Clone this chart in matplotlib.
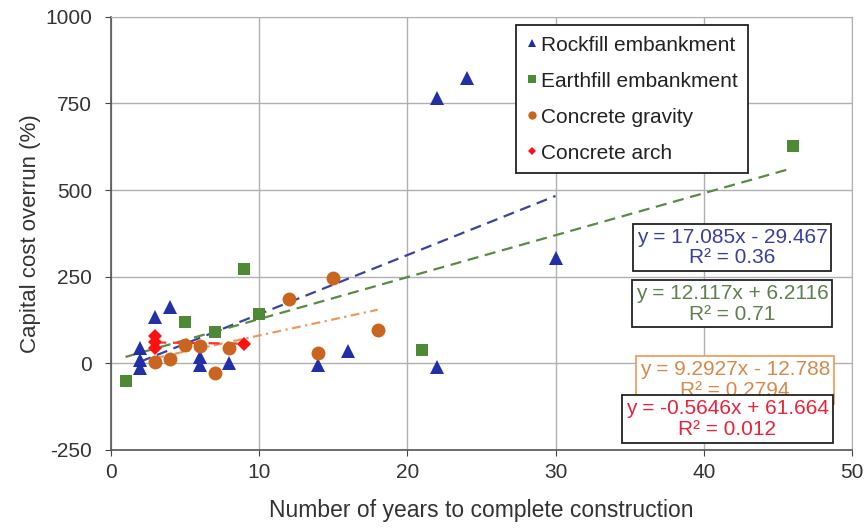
import matplotlib
matplotlib.use("Agg")
import matplotlib.pyplot as plt
import numpy as np

plt.rcParams['font.family'] = ['Liberation Sans', 'DejaVu Sans']
plt.rcParams['axes.unicode_minus'] = False

# ---- data ----
rock_x = [2, 2, 2, 3, 4, 6, 6, 8, 14, 16, 22, 22, 24, 30]
rock_y = [43, 10, -14, 135, 162, 19, -5, 0, -5, 34, 767, -12, 824, 304]

earth_x = [1, 5, 7, 9, 10, 21, 46]
earth_y = [-50, 120, 91, 272, 142, 38, 628]

grav_x = [3, 4, 5, 6, 7, 8, 12, 14, 15, 18]
grav_y = [5, 12, 52, 50, -27, 44, 185, 31, 246, 96]

arch_x = [3, 3, 3, 9]
arch_y = [78, 60, 44, 56]

series_names = ["Rockfill embankment", "Earthfill embankment",
                "Concrete gravity", "Concrete arch"]
trend_slope = [17.085, 12.117, 9.2927, -0.5646]
trend_icpt = [-29.467, 6.2116, -12.788, 61.664]
trend_r2 = ["0.36", "0.71", "0.2794", "0.012"]
eq_text = ["y = 17.085x - 29.467", "y = 12.117x + 6.2116",
           "y = 9.2927x - 12.788", "y = -0.5646x + 61.664"]

x_ticks = [0, 10, 20, 30, 40, 50]
y_ticks = [-250, 0, 250, 500, 750, 1000]

# ---- style ----
mcol = ["#2230a8", "#4e8a36", "#c9651e", "#ff1010"]
tcol = ["#3a3f9e", "#5f7f4f", "#d8894a", "#e8233a"]
lcol = ["#3a44a0", "#5a8a46", "#e89a60", "#ff3030"]
markers = ["^", "s", "o", "D"]
msizes = [10, 9, 10, 7]

fig = plt.figure(figsize=(8.65, 5.28), dpi=100)
ax = fig.add_axes([0.128, 0.148, 0.857, 0.82])

xs = [rock_x, earth_x, grav_x, arch_x]
ys = [rock_y, earth_y, grav_y, arch_y]

handles = []
for i in range(4):
    h, = ax.plot(xs[i], ys[i], linestyle="none", marker=markers[i],
                 markersize=msizes[i], color=mcol[i], markeredgewidth=0,
                 label=series_names[i], zorder=4)
    handles.append(h)

# trend lines over data range
dash = [(0, (5, 3)), (0, (5, 3)), (0, (4, 2, 1, 2)), (0, (5, 3))]
for i in range(4):
    xr = np.array([min(xs[i]), max(xs[i])], dtype=float)
    ax.plot(xr, trend_slope[i] * xr + trend_icpt[i], linestyle=dash[i],
            color=lcol[i], linewidth=1.6, zorder=3)

ax.set_xlim(0, 50)
ax.set_ylim(-250, 1000)
ax.set_xticks(x_ticks)
ax.set_yticks(y_ticks)
ax.grid(True, color="#b0b0b0", linewidth=1.0)
ax.set_axisbelow(True)
for s in ["top", "right"]:
    ax.spines[s].set_color("#b0b0b0")
for s in ["left", "bottom"]:
    ax.spines[s].set_color("#555555")
    ax.spines[s].set_linewidth(1.2)
ax.tick_params(axis="both", labelsize=15, colors="#444444", length=4.5,
               direction="out", labelcolor="#333333")
ax.tick_params(axis="x", pad=5)
ax.tick_params(axis="y", pad=9)
ax.set_xlabel("Number of years to complete construction", fontsize=16.5,
              color="#333333", labelpad=12)
ax.set_ylabel("Capital cost overrun (%)", fontsize=16, color="#333333",
              labelpad=3)

leg = ax.legend(handles=handles, loc="upper left",
                bbox_to_anchor=(0.547, 0.981), fontsize=15,
                frameon=True, fancybox=False, edgecolor="#222222",
                framealpha=1, handlelength=0.5, handletextpad=0.2,
                markerscale=0.6, labelspacing=0.82, borderpad=0.5,
                borderaxespad=0)
leg.get_frame().set_linewidth(1.3)
for t in leg.get_texts():
    t.set_color("#222222")

# equation boxes
box_pos = [(41.9, 334), (41.9, 172), (42.1, -48), (41.6, -161)]
edgecols = ["#222222", "#222222", "#f0a060", "#222222"]
for i in range(4):
    ax.text(box_pos[i][0], box_pos[i][1],
            eq_text[i] + "\nR\u00b2 = " + trend_r2[i],
            ha="center", va="center", fontsize=15, color=tcol[i],
            linespacing=1.12, zorder=6 + i,
            bbox=dict(boxstyle="square,pad=0.18", facecolor="white",
                      edgecolor=edgecols[i], linewidth=1.3))

fig.savefig("out.png", dpi=100)
